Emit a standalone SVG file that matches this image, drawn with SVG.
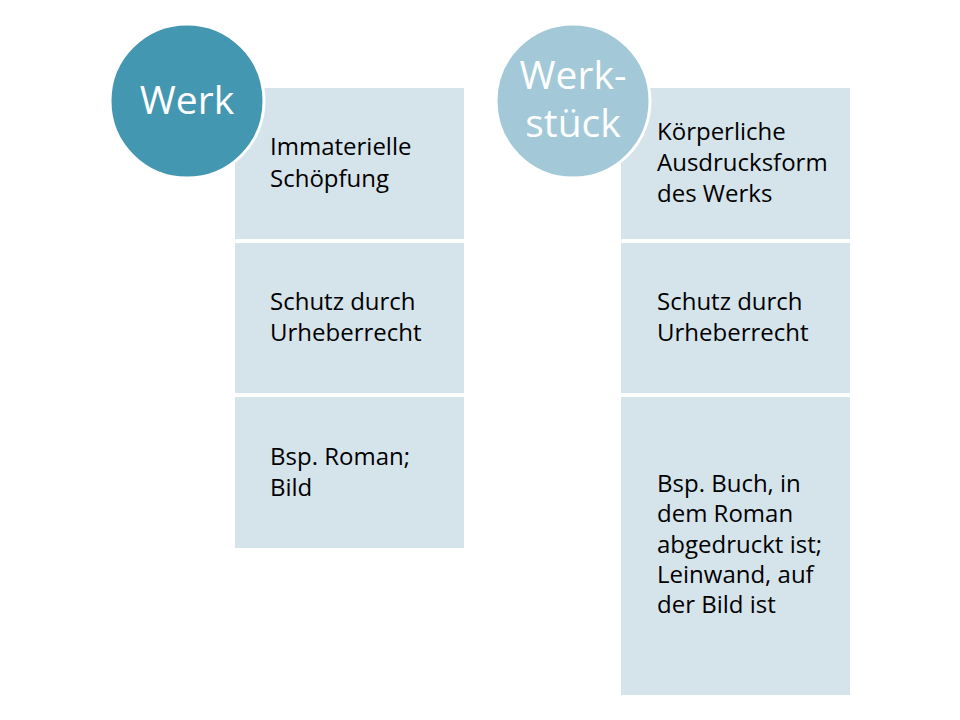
<svg xmlns="http://www.w3.org/2000/svg" width="960" height="720" viewBox="0 0 960 720">
<style>
.box{fill:#d5e4eb}
.t{font-family:"Open Sans","Noto Sans","Liberation Sans",sans-serif;font-size:24px;fill:#000}
.ct{font-family:"Open Sans","Noto Sans","Liberation Sans",sans-serif;font-size:39px;fill:#fff;text-anchor:middle}
</style>
<rect width="960" height="720" fill="#fff"/>
<g id="werk-col">
<g id="box-werk-1"><rect class="box" x="235" y="88" width="229" height="151"/><text class="t" x="270" y="155">Immaterielle</text><text class="t" x="270" y="187">Schöpfung</text></g>
<g id="box-werk-2"><rect class="box" x="235" y="243" width="229" height="150"/><text class="t" x="270" y="310">Schutz durch</text><text class="t" x="270" y="341">Urheberrecht</text></g>
<g id="box-werk-3"><rect class="box" x="235" y="397" width="229" height="151"/><text class="t" x="270" y="465">Bsp. Roman;</text><text class="t" x="270" y="496">Bild</text></g>
<g id="circle-werk"><circle cx="187" cy="101" r="77" fill="#4497b1" stroke="#fff" stroke-width="3"/><text class="ct" x="187" y="114">Werk</text></g>
</g>
<g id="werkstueck-col">
<g id="box-ws-1"><rect class="box" x="621" y="88" width="229" height="151"/><text class="t" x="657" y="140">Körperliche</text><text class="t" x="657" y="171">Ausdrucksform</text><text class="t" x="657" y="202">des Werks</text></g>
<g id="box-ws-2"><rect class="box" x="621" y="243" width="229" height="150"/><text class="t" x="657" y="310">Schutz durch</text><text class="t" x="657" y="341">Urheberrecht</text></g>
<g id="box-ws-3"><rect class="box" x="621" y="397" width="229" height="298"/><text class="t" x="657" y="492">Bsp. Buch, in</text><text class="t" x="657" y="522">dem Roman</text><text class="t" x="657" y="553">abgedruckt ist;</text><text class="t" x="657" y="583">Leinwand, auf</text><text class="t" x="657" y="613">der Bild ist</text></g>
<g id="circle-ws"><circle cx="573" cy="101" r="77" fill="#a3c9d9" stroke="#fff" stroke-width="3"/><text class="ct" x="573" y="89">Werk-</text><text class="ct" x="573" y="137">stück</text></g>
</g>
<g id="connectors"/>
</svg>
